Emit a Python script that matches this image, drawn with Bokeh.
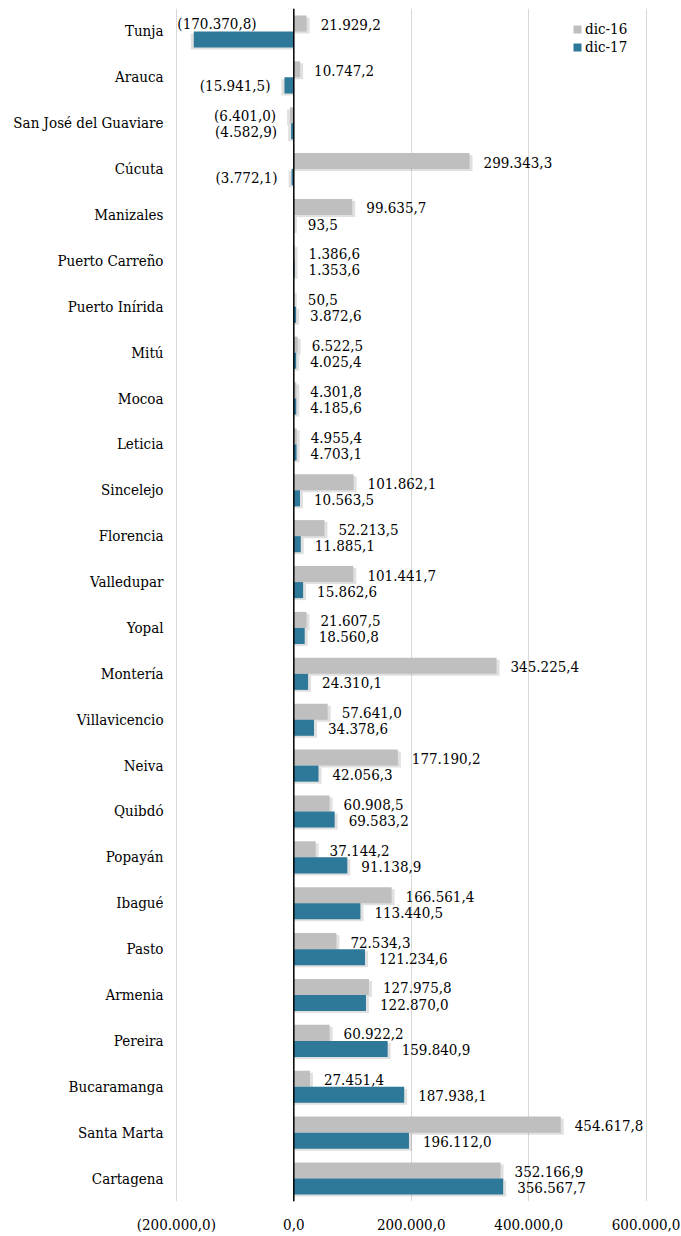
from bokeh.plotting import figure
from bokeh.models import Range1d, FactorRange, FixedTicker, Span, ColumnDataSource, Legend, LegendItem
from bokeh.transform import dodge
from bokeh.core.properties import value
from bokeh.embed import file_html
from bokeh.resources import INLINE

# ---------------- data ----------------
cities = ["Tunja", "Arauca", "San José del Guaviare", "Cúcuta", "Manizales",
          "Puerto Carreño", "Puerto Inírida", "Mitú", "Mocoa", "Leticia",
          "Sincelejo", "Florencia", "Valledupar", "Yopal", "Montería",
          "Villavicencio", "Neiva", "Quibdó", "Popayán", "Ibagué", "Pasto",
          "Armenia", "Pereira", "Bucaramanga", "Santa Marta", "Cartagena"]
dic16 = [21929.2, 10747.2, -6401.0, 299343.3, 99635.7,
         1386.6, 50.5, 6522.5, 4301.8, 4955.4,
         101862.1, 52213.5, 101441.7, 21607.5, 345225.4,
         57641.0, 177190.2, 60908.5, 37144.2, 166561.4, 72534.3,
         127975.8, 60922.2, 27451.4, 454617.8, 352166.9]
dic17 = [-170370.8, -15941.5, -4582.9, -3772.1, 93.5,
         1353.6, 3872.6, 4025.4, 4185.6, 4703.1,
         10563.5, 11885.1, 15862.6, 18560.8, 24310.1,
         34378.6, 42056.3, 69583.2, 91138.9, 113440.5, 121234.6,
         122870.0, 159840.9, 187938.1, 196112.0, 356567.7]
series_names = ["dic-16", "dic-17"]
tick_values = [-200000, 0, 200000, 400000, 600000]
tick_labels = ["(200.000,0)", "0,0", "200.000,0", "400.000,0", "600.000,0"]

# ---------------- style ----------------
FONT = "DejaVu Serif Condensed"
FS = "15px"
COLORS = ["#bfbfbf", "#2e7899"]
XMIN, XMAX = -210000, 633000
FRAME_W, FRAME_H = 495, 1195
BL, BR, BT, BB = 170, 16, 8, 33
ppu = FRAME_W / (XMAX - XMIN)
cat_px = FRAME_H / len(cities)
OFF, H = 0.175, 0.35
LABEL_GAP = 14


def fmt(v):
    s = f"{abs(v):,.1f}".replace(",", "#").replace(".", ",").replace("#", ".")
    return f"({s})" if v < 0 else s


def text_w(s):
    w = 0.0
    for ch in s:
        if ch.isdigit():
            w += 8.6
        elif ch in "()":
            w += 5.3
        else:
            w += 4.3
    return w


p = figure(y_range=FactorRange(*cities[::-1]), x_range=Range1d(XMIN, XMAX),
           width=BL + FRAME_W + BR, height=BT + FRAME_H + BB,
           output_backend="svg", toolbar_location=None,
           min_border_left=BL, min_border_right=BR, min_border_top=BT, min_border_bottom=BB)
p.outline_line_color = None
p.ygrid.grid_line_color = None
p.xgrid.ticker = FixedTicker(ticks=tick_values)
p.xgrid.grid_line_color = "#d9d9d9"
p.xgrid.grid_line_width = 1

p.xaxis.ticker = FixedTicker(ticks=tick_values)
p.xaxis.major_label_overrides = {t: l for t, l in zip(tick_values, tick_labels)}
for ax in (p.xaxis[0], p.yaxis[0]):
    ax.axis_line_color = None
    ax.major_tick_line_color = None
    ax.minor_tick_line_color = None
    ax.major_tick_out = 0
    ax.major_tick_in = 0
    ax.major_label_text_font = FONT
    ax.major_label_text_font_size = FS
    ax.major_label_text_color = "#000000"
p.xaxis.major_label_standoff = 14
p.yaxis.major_label_standoff = 7

dx = 3 / ppu
dy = 2 / cat_px
offsets = [OFF, -OFF]
all_vals = [dic16, dic17]

# soft drop shadows behind the bars
for vals, off in zip(all_vals, offsets):
    src = ColumnDataSource(dict(city=cities, sr=[v + (dx if v >= 0 else -dx) for v in vals]))
    p.hbar(y=dodge("city", off - dy, range=p.y_range), left=0, right="sr", height=H,
           source=src, fill_color="#000000", fill_alpha=0.12, line_color=None)

renderers = []
for vals, off, col in zip(all_vals, offsets, COLORS):
    src = ColumnDataSource(dict(city=cities, v=vals))
    r = p.hbar(y=dodge("city", off, range=p.y_range), left=0, right="v", height=H,
               source=src, fill_color=col, line_color=None)
    renderers.append(r)

p.add_layout(Span(location=0, dimension="height", line_color="#000000", line_width=1.5))

for vals, off in zip(all_vals, offsets):
    pos = dict(city=[], x=[], t=[])
    neg = dict(city=[], x=[], t=[])
    over = dict(city=[], x=[], t=[])
    for c, v in zip(cities, vals):
        t = fmt(v)
        if v >= 0:
            d = pos
        else:
            left_edge = v - (LABEL_GAP + text_w(t)) / ppu
            d = over if left_edge < tick_values[0] else neg
        d["city"].append(c)
        d["x"].append(tick_values[0] if d is over else v)
        d["t"].append(t)
    common = dict(text_font=value(FONT), text_font_size=FS, text_color="#000000",
                  text_baseline="middle", y_offset=1)
    p.text(x="x", y=dodge("city", off, range=p.y_range), text="t", source=ColumnDataSource(pos),
           text_align="left", x_offset=LABEL_GAP, **common)
    p.text(x="x", y=dodge("city", off, range=p.y_range), text="t", source=ColumnDataSource(neg),
           text_align="right", x_offset=-LABEL_GAP, **common)
    p.text(x="x", y=dodge("city", off + H, range=p.y_range), text="t", source=ColumnDataSource(over),
           text_align="left", x_offset=1, **common)

legend = Legend(items=[LegendItem(label=n, renderers=[r]) for n, r in zip(series_names, renderers)],
                location=(402, 1145), orientation="vertical",
                glyph_width=10, glyph_height=10, label_standoff=3, spacing=0, padding=0, margin=0,
                label_height=18, label_text_font=FONT, label_text_font_size=FS,
                label_text_color="#000000", border_line_color=None, background_fill_alpha=0)
p.add_layout(legend)

open("out.html", "w").write(file_html(p, INLINE))
